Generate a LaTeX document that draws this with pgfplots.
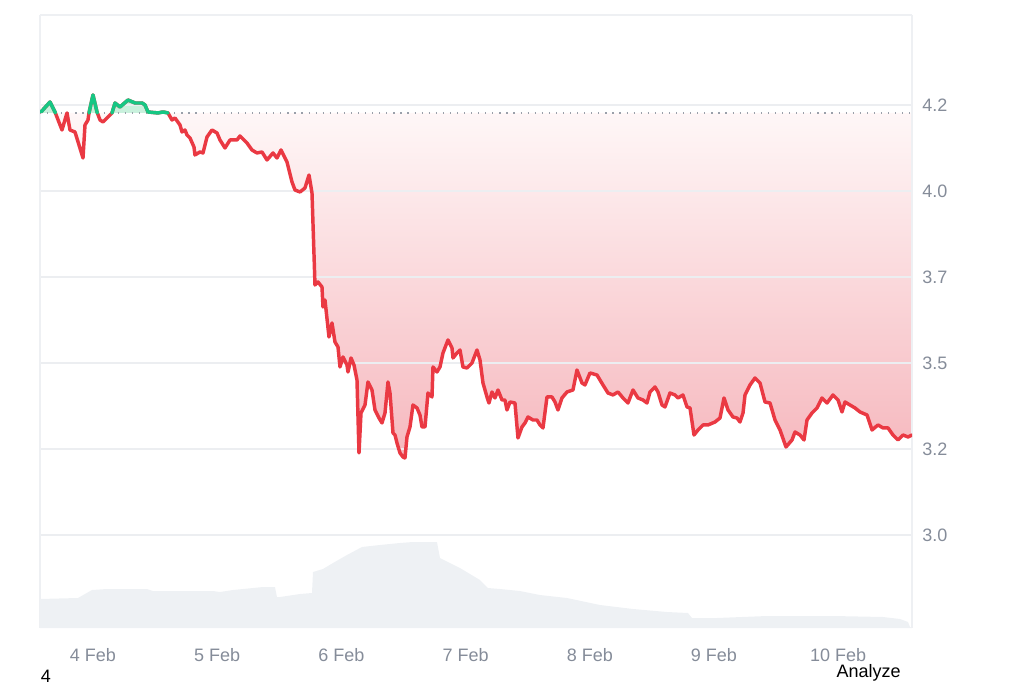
\documentclass[border=0pt]{standalone}
\usepackage{fontspec}
\setmainfont{Liberation Sans}
\usepackage{pgfplots}
\pgfplotsset{compat=1.18}
\definecolor{cmcred}{HTML}{EA3943}
\definecolor{cmcgreen}{HTML}{16C784}
\definecolor{gridc}{HTML}{ECEEF1}
\definecolor{tickc}{HTML}{858C99}
\definecolor{volc}{HTML}{EEF1F4}
\definecolor{framec}{HTML}{EEF0F3}
\definecolor{dotc}{HTML}{9AA0AA}
\definecolor{grfill}{HTML}{C9F1DD}
\pgfplotsset{
  layers/mylayers/.define layer set={axis background,pre main,axis grid,axis ticks,axis lines,axis tick labels,main,axis descriptions,axis foreground}{
    grid style={/pgfplots/on layer=axis grid},
    tick style={/pgfplots/on layer=axis ticks},
    axis line style={/pgfplots/on layer=axis lines},
    label style={/pgfplots/on layer=axis descriptions},
    legend style={/pgfplots/on layer=axis descriptions},
    title style={/pgfplots/on layer=axis descriptions},
    ticklabel style={/pgfplots/on layer=axis tick labels},
    axis background@ style={/pgfplots/on layer=axis background},
    3d box foreground style={/pgfplots/on layer=axis foreground},
  },
}
\pgfplotstableread{
x y
3.5813 4.2297
3.6538 4.2587
3.6940 4.2297
3.7504 4.1773
3.7907 4.2268
3.8148 4.1773
3.8551 4.1715
3.9195 4.0959
3.9356 4.1919
3.9597 4.2064
3.9678 4.2268
4.0000 4.2791
4.0322 4.2297
4.0564 4.2064
4.0805 4.2006
4.1530 4.2268
4.1771 4.2558
4.2174 4.2442
4.2818 4.2645
4.3382 4.2558
4.3945 4.2558
4.4187 4.2500
4.4428 4.2297
4.5233 4.2268
4.5636 4.2297
4.6039 4.2268
4.6361 4.2064
4.6602 4.2122
4.7005 4.1919
4.7166 4.1715
4.7407 4.1773
4.7568 4.1628
4.7810 4.1541
4.8132 4.1279
4.8212 4.1047
4.8615 4.1134
4.8857 4.1105
4.9179 4.1570
4.9581 4.1773
4.9984 4.1686
5.0225 4.1483
5.0628 4.1250
5.1031 4.1483
5.1594 4.1483
5.1836 4.1599
5.2399 4.1395
5.2802 4.1192
5.3204 4.1105
5.3607 4.1134
5.4010 4.0901
5.4493 4.1105
5.4815 4.0959
5.5137 4.1192
5.5620 4.0843
5.6022 4.0262
5.6264 4.0029
5.6667 3.9971
5.7069 4.0087
5.7391 4.0465
5.7633 3.9942
5.7874 3.7267
5.8116 3.7355
5.8438 3.7209
5.8518 3.6628
5.8679 3.6831
5.9001 3.5756
5.9243 3.6163
5.9484 3.5610
5.9726 3.5465
5.9887 3.4884
6.0128 3.5175
6.0450 3.4942
6.0531 3.4739
6.0773 3.5146
6.1014 3.4942
6.1256 3.4506
6.1417 3.2384
6.1578 3.3547
6.1900 3.3779
6.2141 3.4448
6.2463 3.4215
6.2705 3.3634
6.3027 3.3401
6.3268 3.3256
6.3510 3.3547
6.3752 3.4448
6.3913 3.4128
6.4154 3.2965
6.4315 3.2907
6.4476 3.2674
6.4718 3.2384
6.4959 3.2268
6.5120 3.2239
6.5281 3.2849
6.5523 3.3140
6.5764 3.3779
6.6086 3.3692
6.6328 3.3488
6.6489 3.3140
6.6730 3.3140
6.6972 3.4128
6.7294 3.4012
6.7375 3.4884
6.7697 3.4739
6.7938 3.4884
6.8180 3.5291
6.8582 3.5669
6.8904 3.5436
6.8985 3.5146
6.9307 3.5291
6.9548 3.5378
6.9790 3.4884
7.0112 3.4855
7.0515 3.5000
7.0917 3.5378
7.1159 3.5087
7.1400 3.4419
7.1722 3.4012
7.1883 3.3837
7.2125 3.4157
7.2366 3.3983
7.2608 3.4215
7.2930 3.3924
7.3171 3.3924
7.3332 3.3634
7.3574 3.3866
7.3976 3.3837
7.4218 3.2820
7.4540 3.3140
7.4781 3.3256
7.5023 3.3430
7.5426 3.3343
7.5748 3.3343
7.5989 3.3198
7.6231 3.3111
7.6553 3.4012
7.6955 3.4012
7.7197 3.3866
7.7439 3.3634
7.7761 3.3983
7.8163 3.4157
7.8646 3.4215
7.8968 3.4797
7.9371 3.4419
7.9613 3.4361
8.0015 3.4710
8.0579 3.4651
8.1062 3.4361
8.1465 3.4128
8.1867 3.4070
8.2270 3.4157
8.2672 3.3983
8.3075 3.3837
8.3478 3.4215
8.3880 3.3983
8.4283 3.3924
8.4605 3.3837
8.4847 3.4157
8.5249 3.4303
8.5491 3.4157
8.5813 3.3779
8.6054 3.3721
8.6457 3.4128
8.6860 3.4070
8.7101 3.3983
8.7504 3.4070
8.7826 3.3721
8.8068 3.3692
8.8390 3.2907
8.8712 3.3052
8.9115 3.3198
8.9517 3.3198
9.0081 3.3285
9.0484 3.3401
9.0806 3.3983
9.1128 3.3634
9.1531 3.3430
9.1853 3.3401
9.2094 3.3285
9.2336 3.3547
9.2497 3.4070
9.2899 3.4361
9.3302 3.4564
9.3705 3.4419
9.4107 3.3866
9.4510 3.3837
9.4912 3.3343
9.5315 3.3052
9.5798 3.2558
9.6281 3.2762
9.6523 3.2994
9.6925 3.2907
9.7247 3.2762
9.7489 3.3343
9.7892 3.3547
9.8294 3.3692
9.8697 3.3983
9.9100 3.3837
9.9583 3.4070
9.9985 3.3924
10.0307 3.3576
10.0548 3.3866
10.0951 3.3779
10.1354 3.3692
10.1756 3.3576
10.2320 3.3488
10.2722 3.3052
10.3205 3.3198
10.3608 3.3111
10.4010 3.3111
10.4413 3.2907
10.4816 3.2762
10.5218 3.2907
10.5621 3.2849
10.5943 3.2907
}\price
\pgfplotstableread{
x v
3.5733 29
3.8792 30
3.9919 38
4.1127 39
4.4348 39
4.4831 37
4.9662 37
5.0225 36
5.1272 38
5.2882 40
5.3688 41
5.4654 41
5.4815 31
5.5057 31
5.6667 34
5.7633 35
5.7714 56
5.8518 59
5.9324 65
6.0450 73
6.1658 81
6.3107 83
6.4718 85
6.5764 86
6.7375 86
6.7697 86
6.7938 70
6.9548 60
7.1159 48
7.1803 40
7.2769 39
7.4379 37
7.5989 33
7.8163 30
8.0820 23
8.3478 19
8.6215 16
8.7906 15
8.8229 10
9.0241 10
9.4268 12
9.9583 12
10.3608 11
10.4977 9
10.5621 6
10.5782 1
10.5943 0
}\volume
\begin{document}
\begin{tikzpicture}
% volume axis
\begin{axis}[
  at={(0pt,0pt)}, anchor=south west, scale only axis,
  width=654pt, height=459.75pt,
  xmin=3.5733, xmax=10.5943, ymin=0, ymax=613,
  hide y axis, axis x line*=bottom, x axis line style={draw=none},
  xtick={4,5,6,7,8,9,10},
  xticklabels={4 Feb,5 Feb,6 Feb,7 Feb,8 Feb,9 Feb,10 Feb},
  major tick length=0pt,
  xticklabel style={font=\fontsize{13.5}{16}\selectfont, text=tickc, anchor=base, yshift=-24.75pt},
]
\addplot[fill=volc, draw=none] table[x=x, y=v] {\volume} \closedcycle;
\end{axis}
% price axis
\begin{axis}[
  at={(0pt,0pt)}, anchor=south west, scale only axis,
  width=654pt, height=459.75pt,
  set layers=mylayers,
  xmin=3.5733, xmax=10.5943, ymin=2.7296, ymax=4.5116,
  axis x line*=top, axis y line*=box,
  xtick=\empty,
  ytick={3,3.25,3.5,3.75,4,4.25},
  yticklabels={3.0,3.2,3.5,3.7,4.0,4.2},
  yticklabel pos=right,
  major tick length=0pt,
  ymajorgrids, grid style={gridc, line width=0.8pt},
  axis line style={framec, line width=0.8pt},
  /pgf/number format/assume math mode=true,
  yticklabel style={font=\fontsize{13.5}{16}\selectfont, text=tickc, anchor=west, inner sep=0pt, xshift=7.5pt},
]
% area between the price and the opening level
\addplot[on layer=pre main, draw=none, top color={rgb,255:red,255;green,250;blue,250}, bottom color={rgb,255:red,246;green,184;blue,190}]
  table[x=x, y=y] {\price} -- (axis cs:10.5943,4.2268) -- (axis cs:3.5813,4.2268) -- cycle;
% green areas above the opening level
\addplot[on layer=pre main, fill=grfill, draw=none] coordinates {(3.5813,4.2268) (3.5813,4.2297) (3.6538,4.2587) (3.6940,4.2297) (3.6970,4.2268)} -- cycle;
\addplot[on layer=pre main, fill=grfill, draw=none] coordinates {(3.9678,4.2268) (4.0000,4.2791) (4.0322,4.2297) (4.0350,4.2268)} -- cycle;
\addplot[on layer=pre main, fill=grfill, draw=none] coordinates {(4.1530,4.2268) (4.1771,4.2558) (4.2174,4.2442) (4.2818,4.2645) (4.3382,4.2558) (4.3945,4.2558) (4.4187,4.2500) (4.4428,4.2297) (4.5233,4.2268) (4.5636,4.2297) (4.6039,4.2268)} -- cycle;
% opening level
\addplot[dotc, line width=0.9pt, dash pattern=on 0.9pt off 4.4pt] coordinates {(3.5733,4.2268) (10.5943,4.2268)};
% price line
\addplot[cmcred, line width=2.6pt, line join=round, line cap=round] table[x=x, y=y] {\price};
\addplot[cmcgreen, line width=2.6pt, line join=round, line cap=round] coordinates {(3.5813,4.2297) (3.6538,4.2587) (3.6940,4.2297) (3.6970,4.2268)};
\addplot[cmcgreen, line width=2.6pt, line join=round, line cap=round] coordinates {(3.9678,4.2268) (4.0000,4.2791) (4.0322,4.2297) (4.0350,4.2268)};
\addplot[cmcgreen, line width=2.6pt, line join=round, line cap=round] coordinates {(4.1530,4.2268) (4.1771,4.2558) (4.2174,4.2442) (4.2818,4.2645) (4.3382,4.2558) (4.3945,4.2558) (4.4187,4.2500) (4.4428,4.2297) (4.5233,4.2268) (4.5636,4.2297) (4.6039,4.2268)};
\end{axis}
\node[anchor=base, font=\fontsize{13.5}{16}\selectfont] at (4.5pt,-40.5pt) {4};
\node[anchor=base, font=\fontsize{13.5}{16}\selectfont] at (621.4pt,-36.75pt) {Analyze};
\path[use as bounding box] (-30pt,-41.25pt) rectangle (738pt,471pt);
\end{tikzpicture}
\end{document}
